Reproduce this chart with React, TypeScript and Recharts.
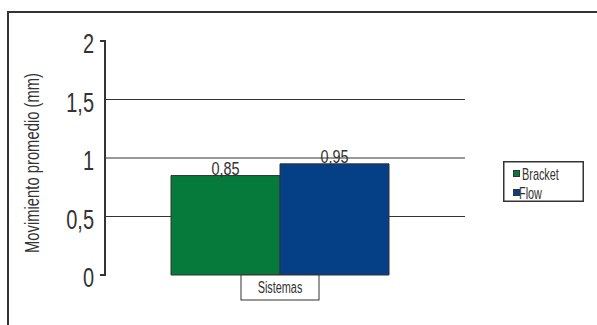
import React from "react";
import {
  BarChart,
  Bar,
  XAxis,
  YAxis,
  CartesianGrid,
  Legend,
  LabelList,
} from "recharts";

const categories = ["Sistemas"];
const bracket = [0.85];
const flow = [0.95];
const yTicks = [0, 0.5, 1, 1.5, 2];
const gridValues = [0.5, 1, 1.5];
const seriesNames = ["Bracket", "Flow"];
const yLabel = "Movimiento promedio (mm)";

const FONT = '"Liberation Sans", Arial, sans-serif';
const INK = "#333";
const GREEN = "#067a3a";
const BLUE = "#053f86";

const data = categories.map((c, i) => ({
  name: c,
  bracket: bracket[i],
  flow: flow[i],
}));

const comma = (v: any) => String(v).replace(".", ",");

// the original uses a condensed face, so squeeze Liberation Sans horizontally
function NText({ x, y, size, sx, anchor = "middle", rotate = 0, baseline, children }: any) {
  return (
    <text
      transform={`translate(${x} ${y}) rotate(${rotate}) scale(${sx} 1)`}
      textAnchor={anchor}
      dominantBaseline={baseline}
      fontSize={size}
      fontFamily={FONT}
      fill={INK}
    >
      {children}
    </text>
  );
}

function YTick(props: any) {
  const { x, y, payload } = props;
  const end = payload.value === yTicks[0] || payload.value === yTicks[yTicks.length - 1];
  return (
    <g>
      {end && <line x1={x + 6} x2={x + 12} y1={y} y2={y} stroke={INK} strokeWidth={2} />}
      <NText x={x} y={y + 12} size={27} sx={0.74} anchor='end'>
        {comma(payload.value)}
      </NText>
    </g>
  );
}

function XTick(props: any) {
  const { x, y, payload } = props;
  return (
    <g>
      <rect x={x - 39} y={y} width={78} height={25} fill='#fff' stroke={INK} strokeWidth={1} />
      <NText x={x} y={y + 18} size={16} sx={0.68}>
        {payload.value}
      </NText>
    </g>
  );
}

function ValueLabel(props: any) {
  const { x, y, width, value } = props;
  return (
    <NText x={x + width / 2} y={y - 1} size={19} sx={0.76}>
      {comma(value)}
    </NText>
  );
}

function LegendBox() {
  const colors = [GREEN, BLUE];
  return (
    <svg width={81} height={41} style={{ display: "block" }}>
      <rect x={0.75} y={0.75} width={79.5} height={39.5} fill='#fff' stroke={INK} strokeWidth={1.5} />
      {seriesNames.map((n, i) => (
        <g key={n}>
          <rect x={10.5} y={9.5 + i * 19} width={6} height={6} fill={colors[i]} stroke={INK} strokeWidth={1} />
          <NText x={i === 0 ? 19 : 16} y={19 + i * 19} size={17} sx={0.64} anchor='start'>
            {n}
          </NText>
        </g>
      ))}
    </svg>
  );
}

export default function App() {
  return (
    <div style={{ position: "absolute", left: 0, top: 0, width: 597, height: 325, overflow: "hidden", background: "#fff" }}>
      <div
        style={{
          position: "absolute",
          left: 7,
          top: 11,
          width: 620,
          height: 340,
          border: `2px solid ${INK}`,
        }}
      />
      <div style={{ position: "absolute", left: 0, top: 0 }}>
        <BarChart
          width={597}
          height={325}
          data={data}
          margin={{ top: 41, right: 132, bottom: 20, left: 0 }}
          barCategoryGap={66}
          barGap={0}
        >
          <CartesianGrid
            vertical={false}
            stroke={INK}
            strokeWidth={1}
            horizontalValues={gridValues}
          />
          <XAxis
            dataKey='name'
            axisLine={false}
            tickLine={false}
            tickSize={0}
            tickMargin={0}
            height={30}
            padding={{ left: 0, right: 10 }}
            tick={<XTick />}
          />
          <YAxis
            domain={[0, 2]}
            ticks={yTicks}
            width={105}
            tickLine={false}
            tickSize={0}
            tickMargin={11}
            axisLine={{ stroke: INK, strokeWidth: 2 }}
            tick={<YTick />}
            label={{
              content: (p: any) => {
                const vb = p.viewBox;
                return (
                  <NText
                    x={vb.x + 32}
                    y={vb.y + vb.height / 2 + 5}
                    size={20}
                    sx={0.74}
                    rotate={-90}
                    baseline='central'
                  >
                    {yLabel}
                  </NText>
                );
              },
            }}
          />
          <Legend
            layout='horizontal'
            verticalAlign='middle'
            align='center'
            content={<LegendBox />}
            wrapperStyle={{ position: "absolute", left: 503, top: 161, width: 81, height: 41 }}
          />
          <Bar dataKey='bracket' name={seriesNames[0]} fill={GREEN} stroke={INK} strokeWidth={1} isAnimationActive={false}>
            <LabelList dataKey='bracket' content={<ValueLabel />} />
          </Bar>
          <Bar dataKey='flow' name={seriesNames[1]} fill={BLUE} stroke={INK} strokeWidth={1} isAnimationActive={false}>
            <LabelList dataKey='flow' content={<ValueLabel />} />
          </Bar>
        </BarChart>
      </div>
    </div>
  );
}
